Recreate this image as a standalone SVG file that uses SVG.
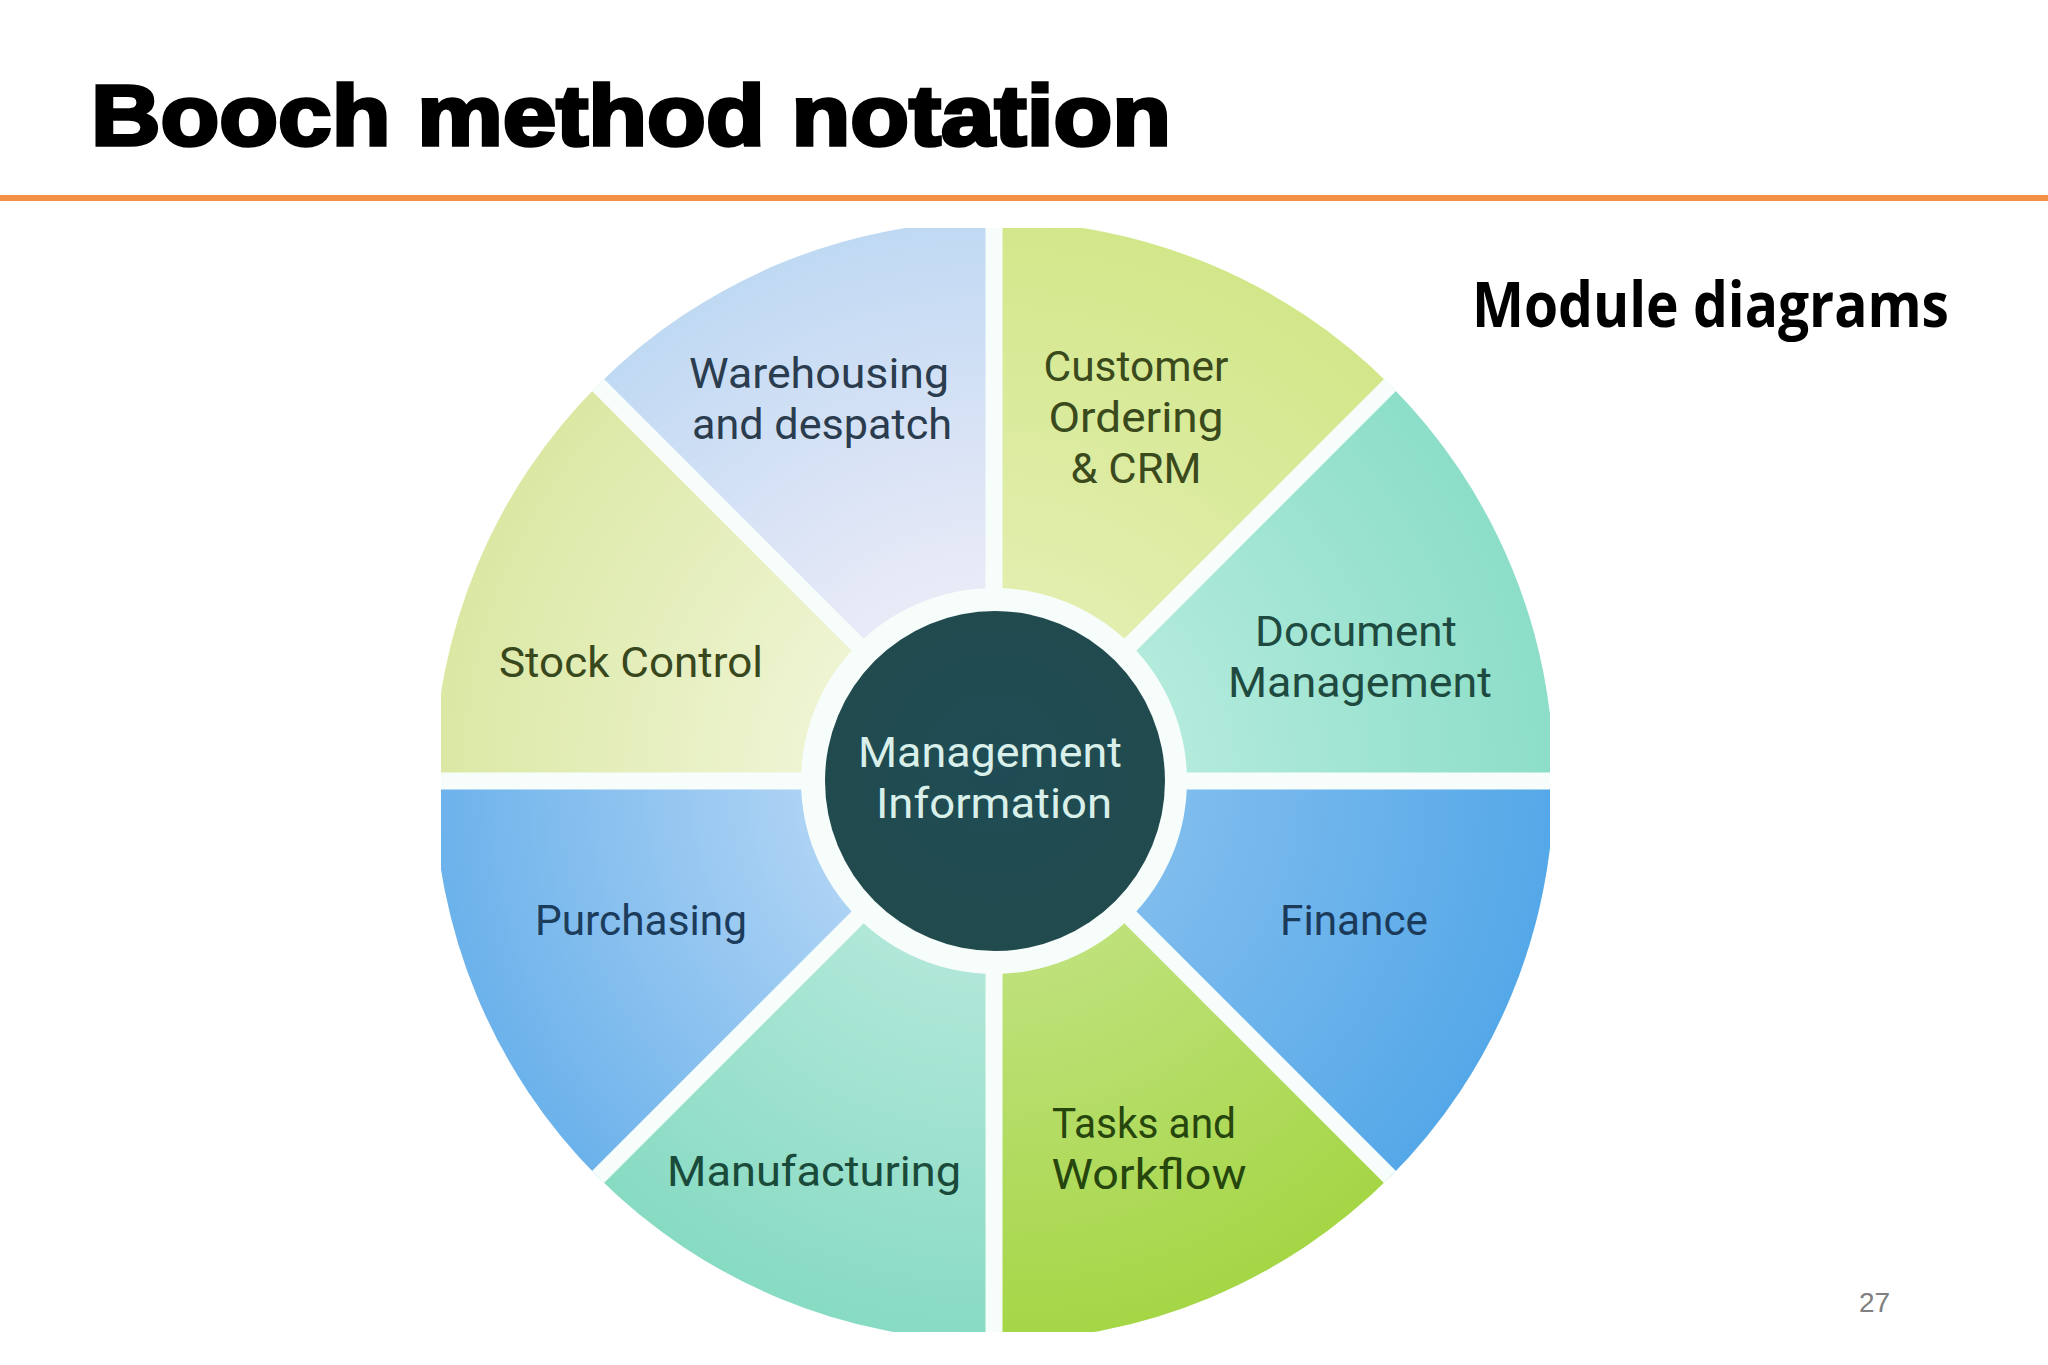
<svg xmlns="http://www.w3.org/2000/svg" width="2048" height="1365" viewBox="0 0 2048 1365">
  <style>
    .title { font-family: "Liberation Sans", Arial, sans-serif; font-weight: bold; font-size: 86px; fill: #000; stroke: #000; stroke-width: 3.5px; }
    .sub { font-family: "Open Sans", "Liberation Sans", sans-serif; font-weight: bold; font-size: 62px; fill: #000; }
    .pg { font-family: "Liberation Sans", Arial, sans-serif; font-size: 28px; fill: #808080; }
    .lbl { font-family: Roboto, "Open Sans", sans-serif; font-size: 42px; text-anchor: middle; }
    .sep { stroke: #f6fdfb; stroke-width: 17; }
  </style>
  <defs>
    <clipPath id="imgClip"><rect x="441" y="228" width="1109" height="1104"/></clipPath>
    <radialGradient id="gWare" gradientUnits="userSpaceOnUse" cx="994" cy="781" r="560">
      <stop offset="0.35" stop-color="#e9eaf7"/><stop offset="1" stop-color="#c0d9f3"/>
    </radialGradient>
    <radialGradient id="gCust" gradientUnits="userSpaceOnUse" cx="994" cy="781" r="560">
      <stop offset="0.35" stop-color="#e2eeae"/><stop offset="1" stop-color="#d2e78a"/>
    </radialGradient>
    <radialGradient id="gDoc" gradientUnits="userSpaceOnUse" cx="994" cy="781" r="560">
      <stop offset="0.35" stop-color="#b2eadc"/><stop offset="1" stop-color="#8cdec8"/>
    </radialGradient>
    <radialGradient id="gFin" gradientUnits="userSpaceOnUse" cx="994" cy="781" r="560">
      <stop offset="0.35" stop-color="#7ebcee"/><stop offset="1" stop-color="#55a8e8"/>
    </radialGradient>
    <radialGradient id="gTask" gradientUnits="userSpaceOnUse" cx="994" cy="781" r="560">
      <stop offset="0.35" stop-color="#bee17a"/><stop offset="1" stop-color="#a5d646"/>
    </radialGradient>
    <radialGradient id="gManu" gradientUnits="userSpaceOnUse" cx="994" cy="781" r="560">
      <stop offset="0.35" stop-color="#b0e7d8"/><stop offset="1" stop-color="#88dbc3"/>
    </radialGradient>
    <radialGradient id="gPurch" gradientUnits="userSpaceOnUse" cx="994" cy="781" r="560">
      <stop offset="0.35" stop-color="#acd2f4"/><stop offset="1" stop-color="#6cb2eb"/>
    </radialGradient>
    <radialGradient id="gStock" gradientUnits="userSpaceOnUse" cx="994" cy="781" r="560">
      <stop offset="0.35" stop-color="#eef4d2"/><stop offset="1" stop-color="#dbe8a4"/>
    </radialGradient>
    <radialGradient id="gCenter" cx="0.5" cy="0.45" r="0.6">
      <stop offset="0" stop-color="#1f4c55"/><stop offset="1" stop-color="#214a4c"/>
    </radialGradient>
  </defs>

  <rect width="2048" height="1365" fill="#ffffff"/>

  <text class="title" x="91" y="145" textLength="1080" lengthAdjust="spacingAndGlyphs">Booch method notation</text>
  <rect x="0" y="195" width="2048" height="6" fill="#f39149"/>
  <text class="sub" x="1472" y="327" textLength="477" lengthAdjust="spacingAndGlyphs">Module diagrams</text>
  <text class="pg" x="1859" y="1312">27</text>

  <g clip-path="url(#imgClip)">
    <g id="warehousing">
      <path d="M994,781 L598,385 A560,560 0 0 1 994,221 Z" fill="url(#gWare)"/>
      <text class="lbl" fill="#2a3c4e"><tspan x="819" y="388" textLength="260" lengthAdjust="spacingAndGlyphs">Warehousing</tspan><tspan x="822" y="439" textLength="260" lengthAdjust="spacingAndGlyphs">and despatch</tspan></text>
    </g>
    <g id="customer-ordering">
      <path d="M994,781 L994,221 A560,560 0 0 1 1390,385 Z" fill="url(#gCust)"/>
      <text class="lbl" fill="#3a4a1c"><tspan x="1136" y="381" textLength="185" lengthAdjust="spacingAndGlyphs">Customer</tspan><tspan x="1136" y="432" textLength="175" lengthAdjust="spacingAndGlyphs">Ordering</tspan><tspan x="1136" y="483" textLength="131" lengthAdjust="spacingAndGlyphs">&amp; CRM</tspan></text>
    </g>
    <g id="document-management">
      <path d="M994,781 L1390,385 A560,560 0 0 1 1554,781 Z" fill="url(#gDoc)"/>
      <text class="lbl" fill="#1f4a3f"><tspan x="1356" y="646" textLength="202" lengthAdjust="spacingAndGlyphs">Document</tspan><tspan x="1360" y="697" textLength="264" lengthAdjust="spacingAndGlyphs">Management</tspan></text>
    </g>
    <g id="finance">
      <path d="M994,781 L1554,781 A560,560 0 0 1 1390,1177 Z" fill="url(#gFin)"/>
      <text class="lbl" fill="#1b3a5a" x="1354" y="935" textLength="148" lengthAdjust="spacingAndGlyphs">Finance</text>
    </g>
    <g id="tasks-workflow">
      <path d="M994,781 L1390,1177 A560,560 0 0 1 994,1341 Z" fill="url(#gTask)"/>
      <text class="lbl" fill="#26460e"><tspan x="1144" y="1138" textLength="184" lengthAdjust="spacingAndGlyphs">Tasks and</tspan><tspan x="1149" y="1189" textLength="195" lengthAdjust="spacingAndGlyphs">Workflow</tspan></text>
    </g>
    <g id="manufacturing">
      <path d="M994,781 L994,1341 A560,560 0 0 1 598,1177 Z" fill="url(#gManu)"/>
      <text class="lbl" fill="#194a3a" x="814" y="1186" textLength="294" lengthAdjust="spacingAndGlyphs">Manufacturing</text>
    </g>
    <g id="purchasing">
      <path d="M994,781 L598,1177 A560,560 0 0 1 434,781 Z" fill="url(#gPurch)"/>
      <text class="lbl" fill="#1c3c5c" x="641" y="935" textLength="212" lengthAdjust="spacingAndGlyphs">Purchasing</text>
    </g>
    <g id="stock-control">
      <path d="M994,781 L434,781 A560,560 0 0 1 598,385 Z" fill="url(#gStock)"/>
      <text class="lbl" fill="#38481c" x="631" y="677" textLength="264" lengthAdjust="spacingAndGlyphs">Stock Control</text>
    </g>

    <g id="separators">
      <line class="sep" x1="994" y1="221" x2="994" y2="1341"/>
      <line class="sep" x1="434" y1="781" x2="1554" y2="781"/>
      <line class="sep" x1="598" y1="385" x2="1390" y2="1177"/>
      <line class="sep" x1="1390" y1="385" x2="598" y2="1177"/>
    </g>
  </g>

  <g id="management-information">
    <circle cx="994" cy="781" r="193" fill="#f6fdfb"/>
    <circle cx="995" cy="781" r="170" fill="url(#gCenter)"/>
    <text class="lbl" fill="#d9f0ea"><tspan x="990" y="767" textLength="264" lengthAdjust="spacingAndGlyphs">Management</tspan><tspan x="994" y="818" textLength="236" lengthAdjust="spacingAndGlyphs">Information</tspan></text>
  </g>
</svg>
